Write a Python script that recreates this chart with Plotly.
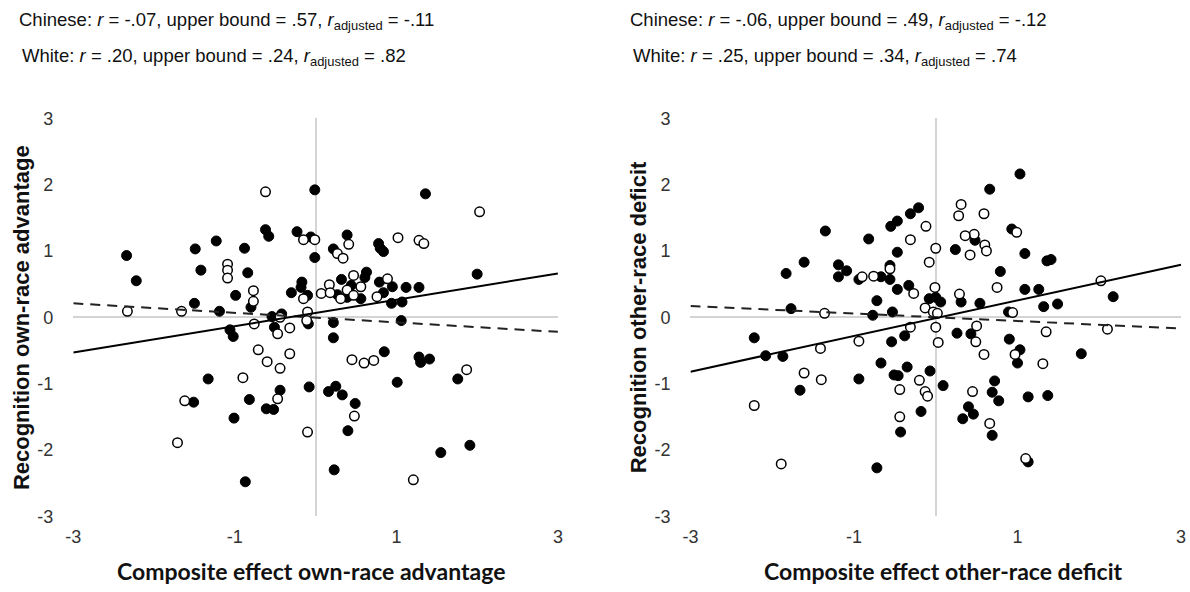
import plotly.graph_objects as go

# ---------------- data ----------------
# Left panel: composite effect own-race advantage vs recognition own-race advantage
left_filled_x = [-2.34, -2.22, -1.49, -1.23, -0.88, -1.42, -0.84, -0.62, -0.58, -0.23, -0.06, -0.99,
                 -1.50, -1.19, -0.80, -0.30, -0.17, -0.18, -0.10, -0.54, -0.42, -0.51, -1.06, -1.02,
                 -0.01, 1.36, -0.01, 0.39, 0.22, 0.78, 0.80, 0.84, 0.63, 0.61, 0.32, 2.00, 0.44, 0.41,
                 0.79, 0.95, 1.12, 1.28, 0.84, 0.27, 0.56, 0.39, 0.94, 1.07, -0.09, 0.22, 1.06, 0.22,
                 -1.33, -1.51, -0.82, -0.44, -0.61, -0.52, -1.01, -0.87, -0.08, 0.85, 1.28, 1.30, 1.41,
                 1.01, 1.76, 0.16, 0.25, 0.33, 0.49, 0.40, 1.55, 1.91, 0.23]
left_filled_y = [0.93, 0.55, 1.03, 1.15, 1.04, 0.71, 0.67, 1.32, 1.22, 1.29, 1.21, 0.33,
                 0.21, 0.09, 0.15, 0.37, 0.53, 0.45, 0.33, 0.01, 0.05, -0.15, -0.19, -0.29,
                 1.92, 1.86, 0.90, 1.24, 1.03, 1.11, 1.04, 0.99, 0.68, 0.60, 0.57, 0.65, 0.48, 0.38,
                 0.53, 0.46, 0.45, 0.45, 0.37, 0.34, 0.28, 0.30, 0.21, 0.23, -0.10, -0.08, -0.05, -0.31,
                 -0.93, -1.28, -1.24, -1.10, -1.38, -1.39, -1.52, -2.48, -1.05, -0.52, -0.60, -0.68, -0.63,
                 -0.98, -0.93, -1.12, -1.04, -1.17, -1.30, -1.71, -2.04, -1.93, -2.30]
left_open_x = [-0.62, -0.15, -1.09, -1.09, -1.09, -0.77, -0.77, -2.33, -1.66, -0.76, -0.47, -0.32,
               -0.15, -0.10, -0.11, -0.44, -0.01, 0.41, 0.27, 0.34, 1.02, 1.28, 1.34, 2.03, 0.47,
               0.89, 0.17, 0.56, 0.39, 0.07, 0.18, 0.31, 0.47, 0.76, -0.71, -0.32, -0.60, -0.44,
               -0.90, -0.47, -1.62, -1.71, -0.10, 0.45, 0.60, 0.72, 1.87, 0.48, 1.21]
left_open_y = [1.89, 1.17, 0.80, 0.71, 0.59, 0.40, 0.24, 0.09, 0.09, -0.10, -0.25, -0.16,
               0.28, 0.08, -0.05, 0.00, 1.17, 1.10, 0.96, 0.89, 1.20, 1.16, 1.11, 1.59, 0.63,
               0.58, 0.49, 0.46, 0.41, 0.36, 0.37, 0.28, 0.33, 0.31, -0.49, -0.55, -0.67, -0.77,
               -0.91, -1.23, -1.26, -1.89, -1.73, -0.64, -0.69, -0.65, -0.79, -1.49, -2.45]

# Right panel: composite effect other-race deficit vs recognition other-race deficit
right_filled_x = [-0.21, -0.31, -0.47, -0.55, -1.35, -0.82, -0.47, -1.61, -1.83, -1.19, -1.09, -1.19,
                  -0.94, -0.67, -0.56, -0.56, -0.47, -0.33, -0.08, -0.72, -1.77, -0.77, -0.53, -2.22,
                  1.03, 0.66, 0.93, 0.48, 0.24, 1.09, 1.36, 1.41, 0.79, 1.09, 1.26, 2.17, 0.00, 0.06,
                  0.31, 0.54, 1.32, 1.49, 0.89, 0.26, 0.43, 0.90, -2.08, -1.87, -0.54, -0.38, -0.67,
                  -0.35, -0.51, -0.46, -0.94, -1.66, -0.18, -0.43, -0.72, -0.07, 1.03, 1.00, 1.78, 0.09,
                  0.72, 0.69, 0.77, 1.13, 1.37, 0.40, 0.46, 0.33, 0.69, 1.13]
right_filled_y = [1.65, 1.56, 1.45, 1.37, 1.30, 1.18, 0.98, 0.83, 0.66, 0.79, 0.70, 0.61,
                  0.57, 0.61, 0.57, 0.78, 0.42, 0.48, 0.28, 0.25, 0.13, 0.03, 0.08, -0.31,
                  2.16, 1.93, 1.33, 1.16, 1.02, 0.96, 0.85, 0.87, 0.69, 0.42, 0.42, 0.31, 0.30, 0.23,
                  0.23, 0.21, 0.16, 0.20, 0.08, -0.24, -0.25, -0.33, -0.58, -0.59, -0.37, -0.28, -0.69,
                  -0.75, -0.87, -0.88, -0.93, -1.10, -1.42, -1.73, -2.27, -0.81, -0.49, -0.69, -0.55, -1.03,
                  -0.96, -1.13, -1.26, -1.20, -1.18, -1.35, -1.46, -1.53, -1.78, -2.18]
right_open_x = [-0.12, -0.31, -0.08, -0.90, -0.76, -0.56, -0.27, -0.13, -1.36, -0.31, 0.31, 0.28,
                0.59, 0.47, 0.36, 0.99, 0.60, 0.62, 0.42, 0.00, -0.01, 0.75, 0.29, 2.02, -0.03, 0.02,
                0.94, 0.00, 0.50, 1.35, 2.10, -0.94, -1.41, -1.61, -1.40, -2.22, -1.89, -0.20, -0.44,
                -0.13, -0.10, -0.44, 0.03, 0.49, 0.59, 0.97, 1.31, 0.45, 0.66, 1.10]
right_open_y = [1.37, 1.17, 0.83, 0.61, 0.62, 0.73, 0.36, 0.14, 0.06, -0.15, 1.70, 1.53,
                1.56, 1.25, 1.23, 1.28, 1.09, 1.00, 0.94, 1.04, 0.45, 0.45, 0.35, 0.55, 0.08, 0.06,
                0.07, -0.15, -0.13, -0.22, -0.18, -0.36, -0.47, -0.84, -0.94, -1.33, -2.21, -0.95, -1.09,
                -1.12, -1.19, -1.50, -0.38, -0.37, -0.56, -0.56, -0.70, -1.12, -1.60, -2.13]

# Fitted lines (end points)
fit_x = [-3, 3]
left_solid_y = [-0.53, 0.66]
left_dashed_y = [0.21, -0.22]
right_solid_y = [-0.82, 0.79]
right_dashed_y = [0.17, -0.17]

x_ticks = [-3, -1, 1, 3]
x_tick_text = ["-3", "-1", "1", "3"]
y_ticks = [-3, -2, -1, 0, 1, 2, 3]
y_tick_text = ["-3", "-2", "-1", "0", "1", "2", "3"]

left_header = ["Chinese: <i>r</i> = -.07, upper bound = .57, <i>r</i><sub>adjusted</sub> = -.11",
               "White: <i>r</i> = .20, upper bound = .24, <i>r</i><sub>adjusted</sub> = .82"]
right_header = ["Chinese: <i>r</i> = -.06, upper bound = .49, <i>r</i><sub>adjusted</sub> = -.12",
                "White: <i>r</i> = .25, upper bound = .34, <i>r</i><sub>adjusted</sub> = .74"]
x_titles = ["Composite effect own-race advantage", "Composite effect other-race deficit"]
y_titles = ["Recognition own-race advantage", "Recognition other-race deficit"]

# ---------------- figure ----------------
W, H = 1190, 592
fig = go.Figure()

panels = [
    ("x", "y", left_filled_x, left_filled_y, left_open_x, left_open_y, left_solid_y, left_dashed_y),
    ("x2", "y2", right_filled_x, right_filled_y, right_open_x, right_open_y, right_solid_y, right_dashed_y),
]
for xa, ya, fx, fy, ox, oy, sy, dy in panels:
    fig.add_trace(go.Scatter(x=fx, y=fy, mode="markers", xaxis=xa, yaxis=ya,
                             marker=dict(size=10, color="black", line=dict(color="black", width=1)),
                             showlegend=False, hoverinfo="skip"))
    fig.add_trace(go.Scatter(x=ox, y=oy, mode="markers", xaxis=xa, yaxis=ya,
                             marker=dict(size=9.5, color="white", line=dict(color="black", width=1.5)),
                             showlegend=False, hoverinfo="skip"))
    fig.add_trace(go.Scatter(x=fit_x, y=dy, mode="lines", xaxis=xa, yaxis=ya,
                             line=dict(color="#222222", width=2, dash="10px,7px"),
                             showlegend=False, hoverinfo="skip"))
    fig.add_trace(go.Scatter(x=fit_x, y=sy, mode="lines", xaxis=xa, yaxis=ya,
                             line=dict(color="black", width=2),
                             showlegend=False, hoverinfo="skip"))

tick_font = dict(family="Liberation Sans, Arial, sans-serif", size=18, color="#333333")
common_x = dict(range=[-3, 3], tickvals=x_ticks, ticktext=x_tick_text, showgrid=False, showline=False,
                zeroline=True, zerolinecolor="#d4d4d4", zerolinewidth=2,
                ticks="", tickfont=tick_font, ticklabelstandoff=8, fixedrange=True)
common_y = dict(range=[-3, 3], tickvals=y_ticks, ticktext=y_tick_text, showgrid=False, showline=False,
                zeroline=True, zerolinecolor="#d4d4d4", zerolinewidth=2,
                ticks="", tickfont=tick_font, ticklabelstandoff=19, fixedrange=True)

y_dom = [1 - 524 / H, 1 - 112 / H]
fig.update_layout(
    width=W, height=H,
    margin=dict(l=0, r=0, t=0, b=0),
    paper_bgcolor="white", plot_bgcolor="white",
    xaxis=dict(domain=[66 / W, 556 / W], anchor="y", **common_x),
    yaxis=dict(domain=y_dom, anchor="x", **common_y),
    xaxis2=dict(domain=[690 / W, 1186 / W], anchor="y2", **common_x),
    yaxis2=dict(domain=y_dom, anchor="x2", **common_y),
)

head_font = dict(family="Liberation Sans, Arial, sans-serif", size=18.5, color="#111111")
for hx, lines in [(9, left_header), (627, right_header)]:
    for j, txt in enumerate(lines):
        fig.add_annotation(text=txt, xref="paper", yref="paper",
                           x=(hx + (3 if j == 1 else 0)) / W, y=1 - (11 + 38 * j) / H,
                           xanchor="left", yanchor="middle", showarrow=False, font=head_font)

xt_font = dict(family="Lato, Open Sans, sans-serif", size=23, color="#111111")
yt_font = dict(family="Liberation Sans, Arial, sans-serif", size=22, color="#111111")
for cx, txt in zip([306, 945], x_titles):
    fig.add_annotation(text="<b>" + txt + "</b>", xref="paper", yref="paper",
                       x=cx / W, y=1 - 581 / H, xanchor="center", yanchor="middle",
                       showarrow=False, font=xt_font)
for px, txt in zip([13, 637], y_titles):
    fig.add_annotation(text="<b>" + txt + "</b>", xref="paper", yref="paper",
                       x=px / W, y=1 - 318 / H, xanchor="center", yanchor="middle",
                       textangle=-90, showarrow=False, font=yt_font)

fig.write_html("out.html", config={"displayModeBar": False},
               post_script="document.body.style.margin='0px';")
